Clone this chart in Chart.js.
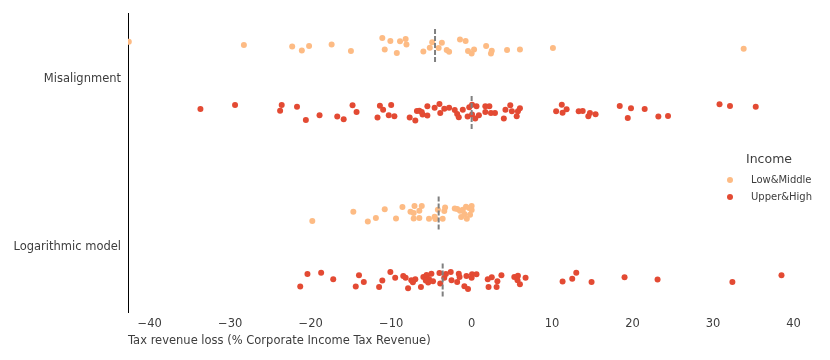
<!DOCTYPE html>
<html>
<head>
<meta charset="utf-8">
<script src="https://cdn.jsdelivr.net/npm/chart.js@4/dist/chart.umd.min.js"></script>
<style>
  body { margin: 0; background: #fff; }
  #wrap { width: 830px; height: 360px; }
</style>
</head>
<body>
<div id="wrap"><canvas id="chart" width="830" height="360"></canvas></div>
<script>
var categories = ["Misalignment", "Logarithmic model"],
    incomeGroups = ["Low&Middle", "Upper&High"],
    groupColors = ["#fdbb84", "#e34a33"],
    xTicks = [-40, -30, -20, -10, 0, 10, 20, 30, 40];

// tax revenue loss per country, plus the strip jitter of each dot
var misLowX = [-42.6, -28.3, -22.3, -21.1, -20.2, -17.4, -15.0, -11.1, -10.1, -10.8, -8.9,
    -8.2, -8.1, -9.3, -6.0, -5.2, -4.9, -4.1, -3.7, -3.1, -2.8, -1.45, -0.75, -0.45,
    0.0, 0.3, 1.8, 2.5, 2.4, 4.4, 6.0, 10.1, 33.8];
var misLowJ = [-0.024, -0.004, 0.004, 0.028, 0.002, -0.008, 0.031, -0.046, -0.028, 0.022, -0.026,
    -0.040, -0.008, 0.043, 0.034, 0.012, -0.020, 0.014, -0.018, 0.026, 0.036, -0.037, -0.028, 0.031,
    0.047, 0.022, 0.002, 0.030, 0.047, 0.026, 0.022, 0.014, 0.018];

var misHighX = [-33.7, -29.4, -23.6, -23.8, -21.7, -20.6, -18.9, -16.7, -15.9, -14.8, -14.3,
    -11.7, -11.4, -11.0, -10.0, -10.3, -9.6, -7.7, -7.0, -6.8, -6.5, -6.1, -6.2, -5.5, -5.5,
    -4.6, -4.0, -3.9, -3.4, -2.8, -2.1, -1.8, -1.6, -1.1, -0.5, -0.3, 0.05, 0.6, 0.05, 0.45,
    0.9, 1.7, 2.2, 1.7, 2.4, 2.9, 4.0, 4.2, 4.8, 5.0, 5.6, 5.75, 6.0, 10.5, 11.2, 11.3, 11.8,
    13.3, 13.8, 14.5, 14.7, 15.4, 18.4, 19.4, 19.8, 21.5, 23.2, 24.4, 30.8, 32.1, 35.3];
var misHighJ = [-0.022, -0.046, -0.046, -0.012, -0.036, 0.043, 0.015, 0.023, 0.039, -0.044, -0.004,
    0.029, -0.042, -0.018, -0.046, 0.015, 0.021, 0.029, 0.047, -0.010, -0.012, 0.011, -0.004, -0.038, 0.017,
    -0.030, -0.052, 0.002, -0.024, -0.030, -0.016, 0.008, 0.027, -0.018, 0.023, -0.032, -0.048, -0.038, 0.011, 0.035,
    0.015, -0.038, -0.038, -0.004, 0.002, 0.002, 0.035, -0.018, -0.044, -0.008, 0.021, -0.008, -0.026, -0.008, -0.048, 0.000, -0.020,
    -0.008, -0.010, 0.021, 0.002, 0.009, -0.040, 0.031, -0.026, -0.022, 0.023, 0.020, -0.050, -0.040, -0.036];

var logLowX = [-19.8, -14.7, -12.9, -11.9, -10.8, -9.4, -8.6, -7.6, -7.2, -7.1, -6.5, -6.2,
    -7.2, -6.5, -5.3, -4.6, -4.5, -3.6, -4.2, -3.3, -3.4, -2.1, -1.8, -1.45, -1.1, -0.7,
    -0.3, 0.0, 0.0, -1.3, -0.9, -0.6, -0.2];
var logLowJ = [0.046, -0.009, 0.049, 0.028, -0.023, 0.031, -0.037, -0.009, -0.001, -0.043, -0.015, -0.043,
    0.031, 0.028, 0.033, 0.021, 0.034, 0.033, -0.021, -0.034, -0.013, -0.028, -0.025, -0.015, -0.021, -0.039,
    -0.031, -0.043, -0.019, 0.023, 0.005, 0.033, 0.009];

var logHighX = [-21.3, -20.4, -18.7, -17.2, -14.4, -14.0, -13.4, -11.5, -11.1, -10.1, -9.5,
    -8.5, -8.2, -7.9, -7.5, -7.0, -7.3, -6.3, -6.0, -5.6, -5.3, -5.0, -5.4, -4.8, -5.7, -4.0,
    -3.9, -3.4, -3.2, -2.6, -2.5, -1.6, -1.5, -1.8, -0.9, -0.45, -0.65, 0.05, 0.0, 0.6, 2.0,
    2.5, 2.1, 3.1, 3.2, 3.7, 5.3, 5.75, 5.7, 6.0, 6.7, 11.3, 12.5, 13.0, 14.9, 19.0, 23.1,
    32.4, 38.5];
var logHighJ = [0.038, -0.037, -0.045, -0.005, 0.038, -0.029, 0.011, 0.040, 0.002, -0.049, -0.015,
    -0.025, -0.015, 0.048, 0.001, -0.005, 0.012, 0.040, -0.019, -0.031, -0.007, -0.039, 0.014, 0.007, 0.002, -0.043,
    0.020, -0.015, -0.037, -0.049, 0.001, -0.039, -0.019, 0.011, 0.036, 0.052, -0.025, -0.035, -0.015, -0.035, -0.005,
    -0.017, 0.040, 0.040, 0.007, -0.029, -0.019, -0.027, 0.001, 0.024, -0.015, 0.008, -0.009, -0.045, 0.011, -0.017, -0.004,
    0.011, -0.029];

// median of each strip: [category][income group]
var medians = [[-4.55, 0.0], [-4.1, -3.6]];

var dodge = [-0.2, 0.2],
    medianHalf = 0.1,
    textColor = "#3d3d3d",
    fontFamily = "'DejaVu Sans', Verdana, sans-serif";

var seriesX = [[misLowX, misHighX], [logLowX, logHighX]],
    seriesJ = [[misLowJ, misHighJ], [logLowJ, logHighJ]];

function buildPoints(g) {
    var pts = [];
    for (var c = 0; c < categories.length; c++) {
        var xs = seriesX[c][g], js = seriesJ[c][g];
        for (var i = 0; i < xs.length; i++) {
            pts.push({x: xs[i], y: c + dodge[g] + js[i]});
        }
    }
    return pts;
}

var datasets = [];
for (var c = 0; c < categories.length; c++) {
    for (var g = 0; g < incomeGroups.length; g++) {
        var yc = c + dodge[g];
        datasets.push({
            label: "median",
            data: [{x: medians[c][g], y: yc - medianHalf}, {x: medians[c][g], y: yc + medianHalf}],
            showLine: true,
            borderColor: "#808080",
            borderWidth: 2,
            borderDash: [5, 2],
            pointRadius: 0,
            order: 0
        });
    }
}
for (var g2 = 0; g2 < incomeGroups.length; g2++) {
    datasets.push({
        label: incomeGroups[g2],
        data: buildPoints(g2),
        backgroundColor: groupColors[g2],
        borderWidth: 0,
        pointRadius: 3,
        order: 1
    });
}

/* seaborn-ish legend floating to the right of the strips */
var incomeLegend = {
    id: "incomeLegend",
    afterDraw: function(chart) {
        var ctx = chart.ctx;
        ctx.save();
        ctx.fillStyle = textColor;
        ctx.textBaseline = "middle";
        ctx.textAlign = "left";
        ctx.font = "12.5px " + fontFamily;
        ctx.fillText("Income", 746, 160);
        ctx.font = "10px " + fontFamily;
        for (var i = 0; i < incomeGroups.length; i++) {
            var y = 180 + i * 17;
            ctx.beginPath();
            ctx.arc(730, y, 3, 0, Math.PI * 2);
            ctx.fillStyle = groupColors[i];
            ctx.fill();
            ctx.fillStyle = textColor;
            ctx.fillText(incomeGroups[i], 751, y);
        }
        ctx.restore();
    }
};

new Chart(document.getElementById("chart"), {
    type: "scatter",
    data: {datasets: datasets},
    plugins: [incomeLegend],
    options: {
        responsive: false,
        animation: false,
        layout: {padding: {left: 0, right: 30, top: 12, bottom: 0}},
        plugins: {legend: {display: false}, tooltip: {enabled: false}},
        scales: {
            x: {
                type: "linear",
                min: -42.7,
                max: 40.8,
                afterFit: function(scale) { scale.height = 48; },
                afterBuildTicks: function(scale) {
                    scale.ticks = xTicks.map(function(v) { return {value: v}; });
                },
                grid: {display: false, drawTicks: false},
                border: {display: false},
                ticks: {
                    padding: 5,
                    color: textColor,
                    font: {family: fontFamily, size: 11.5},
                    callback: function(v) { return v < 0 ? "\u2212" + Math.abs(v) : String(v); }
                },
                title: {
                    display: true,
                    text: "Tax revenue loss (% Corporate Income Tax Revenue)",
                    align: "start",
                    color: textColor,
                    font: {family: fontFamily, size: 11.5},
                    padding: {top: 0, bottom: 12}
                }
            },
            y: {
                type: "linear",
                reverse: true,
                min: -0.39,
                max: 1.39,
                afterFit: function(scale) { scale.width = 128; },
                afterBuildTicks: function(scale) {
                    scale.ticks = categories.map(function(name, i) { return {value: i}; });
                },
                grid: {display: false, drawTicks: false},
                border: {display: true, color: "#000", width: 1},
                ticks: {
                    padding: 7,
                    color: textColor,
                    font: {family: fontFamily, size: 11.5},
                    callback: function(v) { return categories[v]; }
                }
            }
        }
    }
});
</script>
</body>
</html>
